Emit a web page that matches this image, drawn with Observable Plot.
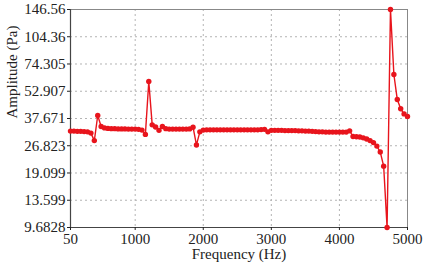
<!DOCTYPE html>
<html>
<head>
<meta charset="utf-8">
<script src="https://cdn.jsdelivr.net/npm/d3@7"></script>
<script src="https://cdn.jsdelivr.net/npm/@observablehq/plot@0.6"></script>
<style>
  html, body { margin: 0; padding: 0; background: #fff; }
  #chart { width: 425px; height: 268px; }
</style>
</head>
<body>
<div id="chart"></div>
<script>
const frequency = [
  50, 100, 150, 200, 250, 300, 350, 400, 450, 500,
  550, 600, 650, 700, 750, 800, 850, 900, 950, 1000,
  1050, 1100, 1150, 1200, 1250, 1300, 1350, 1400, 1450, 1500,
  1550, 1600, 1650, 1700, 1750, 1800, 1850, 1900, 1950, 2000,
  2050, 2100, 2150, 2200, 2250, 2300, 2350, 2400, 2450, 2500,
  2550, 2600, 2650, 2700, 2750, 2800, 2850, 2900, 2950, 3000,
  3050, 3100, 3150, 3200, 3250, 3300, 3350, 3400, 3450, 3500,
  3550, 3600, 3650, 3700, 3750, 3800, 3850, 3900, 3950, 4000,
  4050, 4100, 4150, 4200, 4250, 4300, 4350, 4400, 4450, 4500,
  4550, 4600, 4650, 4700, 4750, 4800, 4850, 4900, 4950, 5000
];
const amplitude = [
  32.2, 32.2, 32.1, 32.1, 32.0, 31.9, 31.4, 28.6, 39.1, 34.1,
  33.5, 33.3, 33.2, 33.2, 33.1, 33.1, 33.1, 33.0, 33.0, 33.0,
  32.9, 32.6, 30.9, 59.7, 34.8, 33.9, 32.5, 34.1, 33.2, 33.0,
  33.0, 33.0, 33.0, 33.0, 33.0, 33.1, 33.8, 27.1, 31.9, 32.6,
  32.7, 32.7, 32.7, 32.7, 32.7, 32.7, 32.7, 32.7, 32.7, 32.7,
  32.7, 32.7, 32.7, 32.7, 32.7, 32.7, 32.8, 32.9, 31.9, 32.5,
  32.5, 32.5, 32.5, 32.4, 32.4, 32.4, 32.4, 32.3, 32.3, 32.2,
  32.2, 32.1, 32.0, 31.9, 31.9, 31.8, 31.8, 31.8, 31.8, 31.8,
  31.8, 31.8, 32.3, 30.1, 30.0, 29.9, 29.6, 29.2, 28.6, 27.9,
  26.7, 24.8, 20.8, 9.6828, 146.56, 65.2, 47.7, 42.5, 39.9, 38.6
];
const yTicks = [9.6828, 13.599, 19.099, 26.823, 37.671, 52.907, 74.305, 104.36, 146.56];
const xTicks = [50, 1000, 2000, 3000, 4000, 5000];
const xLabel = "Frequency (Hz)";
const yLabel = "Amplitude (Pa)";

const data = frequency.map((f, i) => ({f, a: amplitude[i]}));
const red = "#e8141c";

const chart = Plot.plot({
  width: 425,
  height: 268,
  marginLeft: 70,
  marginRight: 18,
  marginTop: 9,
  marginBottom: 41,
  style: {fontFamily: "'Liberation Serif', 'Times New Roman', serif", fontSize: "15px", color: "#222", background: "#fff"},
  x: {domain: [50, 5000], ticks: xTicks, tickFormat: d => String(d)},
  y: {type: "log", domain: [9.6828, 146.56], ticks: yTicks, tickFormat: d => String(d)},
  marks: [
    Plot.gridX(xTicks.slice(1, -1), {stroke: "#b4b4b4", strokeOpacity: 1, strokeDasharray: "2,3"}),
    Plot.gridY(yTicks.slice(1, -1), {stroke: "#b4b4b4", strokeOpacity: 1, strokeDasharray: "2,3"}),
    Plot.frame({stroke: "#888"}),
    Plot.ruleX([50], {stroke: "#444", strokeWidth: 1.2}),
    Plot.ruleY([9.6828], {stroke: "#444", strokeWidth: 1.2}),
    Plot.axisX({ticks: xTicks, tickFormat: d => String(d), tickSize: 3, tickPadding: 3, label: null, fontSize: 15}),
    Plot.axisY({ticks: yTicks, tickFormat: d => String(d), tickSize: 3, tickPadding: 2, label: null, fontSize: 15}),
    Plot.line(data, {x: "f", y: "a", stroke: red, strokeWidth: 1.4}),
    Plot.dot(data, {x: "f", y: "a", fill: red, r: 2.7}),
    Plot.text([xLabel], {frameAnchor: "bottom", dy: 31, fontSize: 15, fill: "#222"}),
    Plot.text([yLabel], {frameAnchor: "left", dx: -58, rotate: -90, fontSize: 15, fill: "#222"})
  ]
});
document.getElementById("chart").appendChild(chart);
</script>
</body>
</html>
